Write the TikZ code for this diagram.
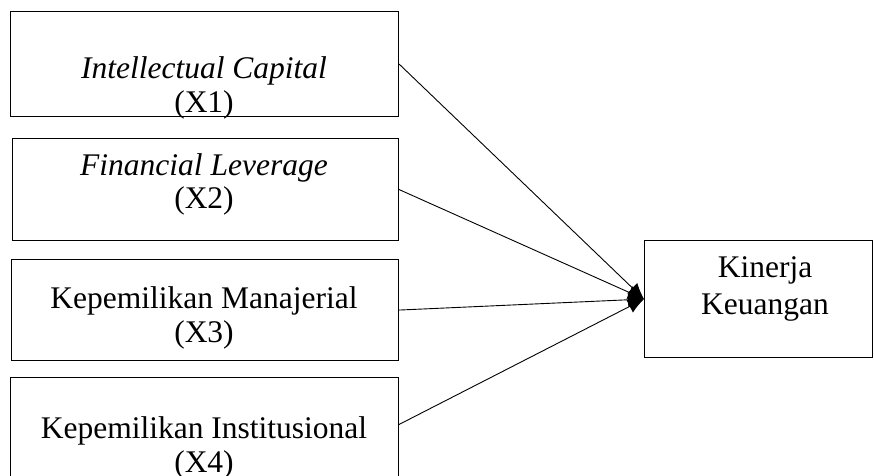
\documentclass[tikz,border=0pt]{standalone}
\usepackage{fontspec}
\setmainfont{Liberation Serif}
\usetikzlibrary{arrows.meta,calc}
\begin{document}
\begin{tikzpicture}[x=1pt,y=-1pt,
  box/.style={draw,line width=1.1pt,inner sep=0pt,anchor=north west},
  lbl/.style={anchor=base,inner sep=0pt,font=\fontsize{31.5}{34}\selectfont},
  arr/.style={line width=0.9pt,-{Latex[length=16pt,width=14pt]}}]
\useasboundingbox (0,0) rectangle (874,475);
\clip (0,0) rectangle (874,475);
\node[box,minimum width=388pt,minimum height=105pt] (b1) at (10,11) {};
\node[box,minimum width=386pt,minimum height=102pt] (b2) at (12,138) {};
\node[box,minimum width=387pt,minimum height=101pt] (b3) at (11,259) {};
\node[box,minimum width=388pt,minimum height=120pt] (b4) at (10,377) {};
\node[box,minimum width=228pt,minimum height=117pt] (k) at (644,240) {};
\node[lbl] (t1a) at (204,78) {\itshape Intellectual Capital};
\node[lbl] (t1b) at (204,112) {(X1)};
\node[lbl] (t2a) at (204,175) {\itshape Financial Leverage};
\node[lbl] (t2b) at (204,208) {(X2)};
\node[lbl] (t3a) at (204,308) {Kepemilikan Manajerial};
\node[lbl] (t3b) at (204,342) {(X3)};
\node[lbl] (t4a) at (204,438) {Kepemilikan Institusional};
\node[lbl] (t4b) at (204,472) {(X4)};
\node[lbl] (ka) at (765,277) {Kinerja};
\node[lbl] (kb) at (765,314) {Keuangan};
\coordinate (s4) at (398,425);
\draw[arr] (b1.east) -- (k.west);
\draw[arr] (b2.east) -- (k.west);
\draw[arr] (b3.east) -- (k.west);
\draw[arr] (s4) -- (k.west);
\end{tikzpicture}
\end{document}
